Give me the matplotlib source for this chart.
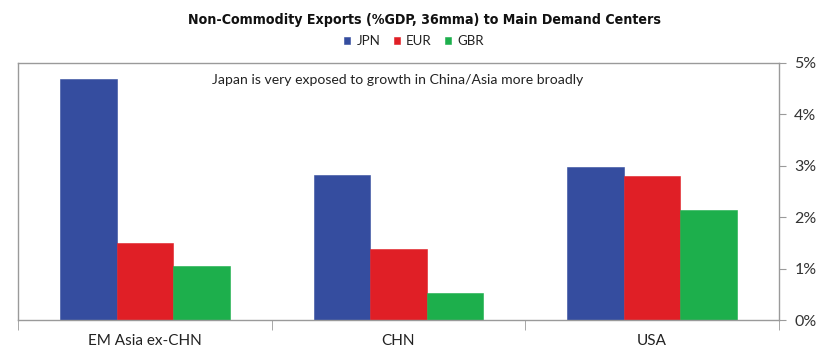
import numpy as np
import matplotlib.pyplot as plt
from matplotlib.ticker import FuncFormatter, FixedLocator

# 数据
categories = ["EM Asia ex-CHN", "CHN", "USA"]
series_names = ["JPN", "EUR", "GBR"]
jpn = [4.68, 2.82, 2.98]
eur = [1.49, 1.38, 2.79]
gbr = [1.05, 0.52, 2.13]
colors = ["#354d9f", "#e01f26", "#1daf4c"]

plt.rcParams['font.family'] = ['Lato', 'DejaVu Sans']

fig = plt.figure(figsize=(8.4, 3.57), dpi=100)
ax = fig.add_axes([18 / 840, 1 - 320 / 357, (779 - 18) / 840, (320 - 62.7) / 357])

x = np.arange(len(categories))
width = 0.223
for k, (vals, c, name) in enumerate(zip([jpn, eur, gbr], colors, series_names)):
    ax.bar(x + (k - 1) * width, vals, width, color=c, label=name,
           edgecolor=c, linewidth=0.4)

ax.set_xlim(-0.5, 2.5)
ax.set_ylim(0, 5)

# 坐标轴样式
for s in ax.spines.values():
    s.set_color("#9a9a9a")
    s.set_linewidth(1.0)

ax.yaxis.tick_right()
ax.set_yticks(np.arange(0, 6, 1))
ax.yaxis.set_major_formatter(FuncFormatter(lambda v, p: "%d%%" % v))
ax.tick_params(axis="y", direction="out", length=5, color="#9a9a9a",
               labelsize=11.5, labelcolor="#333333", pad=6)

ax.set_xticks(x)
ax.set_xticklabels(categories)
ax.xaxis.set_minor_locator(FixedLocator([-0.5, 0.5, 1.5, 2.5]))
ax.tick_params(axis="x", which="major", length=0, labelsize=11,
               labelcolor="#222222", pad=10)
ax.tick_params(axis="x", which="minor", direction="out", length=7,
               color="#9a9a9a")

fig.text(424 / 840, 1 - 20 / 357, "Non-Commodity Exports (%GDP, 36mma) to Main Demand Centers",
         ha="center", va="center", fontsize=10.2, fontweight="bold",
         fontstretch="condensed", family=["DejaVu Sans"], color="#111111")

ax.text(398 / 840, 1 - 80 / 357, "Japan is very exposed to growth in China/Asia more broadly",
        transform=fig.transFigure, ha="center", va="center",
        fontsize=10.1, color="#222222")

leg = fig.legend(loc="center", bbox_to_anchor=(414 / 840, 1 - 41 / 357), ncol=3,
                 frameon=False, fontsize=9.5, handlelength=0.45, handleheight=0.45,
                 handletextpad=0.5, columnspacing=1.0)
for t in leg.get_texts():
    t.set_color("#222222")

fig.savefig("out.png", dpi=100)
